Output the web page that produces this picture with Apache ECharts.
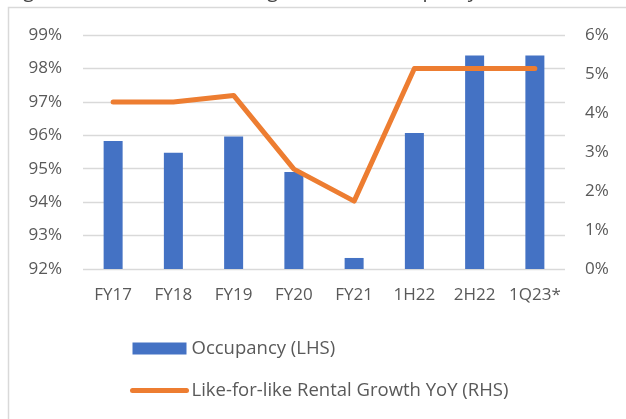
<!DOCTYPE html>
<html>
<head>
<meta charset="utf-8">
<script src="https://cdn.jsdelivr.net/npm/echarts@6/dist/echarts.min.js"></script>
<style>
  html, body { margin: 0; padding: 0; background: #fff; }
  #main { width: 626px; height: 419px; }
</style>
</head>
<body>
<div id="main"></div>
<script>
// data
var periods = ['FY17', 'FY18', 'FY19', 'FY20', 'FY21', '1H22', '2H22', '1Q23*'];
var occupancy = [95.83, 95.48, 95.96, 94.90, 92.33, 96.07, 98.39, 98.39];   // LHS, %
var rentalGrowth = [4.28, 4.28, 4.45, 2.56, 1.74, 5.14, 5.14, 5.14];        // RHS, %
var titleText = 'Figure 8: Like-for-like rental growth and occupancy';

var txt = '#595959';
var font = 'Open Sans';

var chart = echarts.init(document.getElementById('main'));
chart.setOption({
    backgroundColor: '#fff',
    animation: false,
    textStyle: { fontFamily: font },
    graphic: [
        // chart area border (only top and left are inside the crop)
        { type: 'rect', shape: { x: 8.5, y: 7.5, width: 700, height: 500 },
          style: { fill: 'none', stroke: '#D9D9D9', lineWidth: 1.5 }, silent: true },
        // title, mostly cut off above the picture
        { type: 'text', x: 8, y: -19,
          style: { text: titleText, font: '20px ' + font, fill: '#404040', verticalAlign: 'top' } }
    ],
    grid: { left: 83, right: 61, top: 35, bottom: 150 },
    legend: {
        orient: 'vertical',
        left: 125,
        top: 334,
        itemWidth: 54,
        itemHeight: 12,
        itemGap: 23,
        itemStyle: {},
        textStyle: { color: txt, fontSize: 18.5, fontFamily: font },
        data: [
            { name: 'Occupancy (LHS)', icon: 'rect' },
            { name: 'Like-for-like Rental Growth YoY (RHS)',
              itemStyle: { opacity: 0 },
              lineStyle: { width: 5, cap: 'round' } }
        ]
    },
    xAxis: {
        type: 'category',
        data: periods,
        axisLine: { show: false },
        axisTick: { show: false },
        axisLabel: { color: txt, fontSize: 17, margin: 18, interval: 0 }
    },
    yAxis: [
        {
            type: 'value', min: 92, max: 99, interval: 1,
            axisLabel: { color: txt, fontSize: 17, margin: 21, formatter: '{value}%' },
            splitLine: { lineStyle: { color: '#D9D9D9', width: 1.3 } },
            axisLine: { show: false }, axisTick: { show: false }
        },
        {
            type: 'value', min: 0, max: 6, interval: 1,
            axisLabel: { color: txt, fontSize: 17, margin: 20, formatter: '{value}%' },
            splitLine: { show: false },
            axisLine: { show: false }, axisTick: { show: false }
        }
    ],
    series: [
        {
            name: 'Occupancy (LHS)',
            type: 'bar',
            yAxisIndex: 0,
            barWidth: 19,
            itemStyle: { color: '#4472C4' },
            data: occupancy
        },
        {
            name: 'Like-for-like Rental Growth YoY (RHS)',
            type: 'line',
            yAxisIndex: 1,
            symbol: 'none',
            color: '#ED7D31',
            lineStyle: { color: '#ED7D31', width: 5, cap: 'round', join: 'round' },
            data: rentalGrowth
        }
    ]
});
</script>
</body>
</html>
